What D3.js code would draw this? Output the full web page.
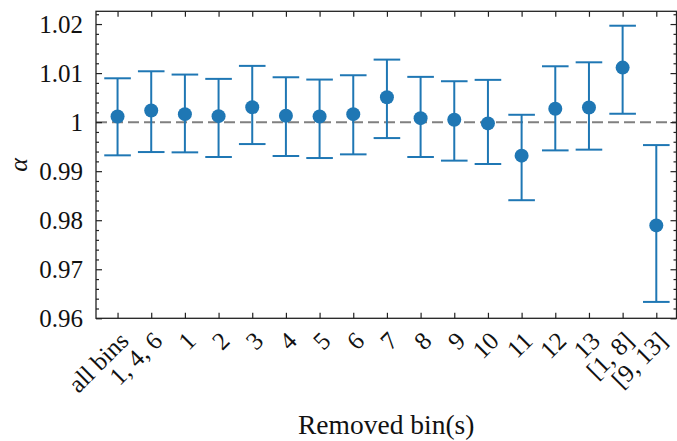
<!DOCTYPE html>
<html>
<head>
<meta charset="utf-8">
<script src="https://cdn.jsdelivr.net/npm/d3@7"></script>
<style>
  html, body { margin: 0; padding: 0; background: #fff; }
  svg { display: block; }
  text { font-family: "Liberation Serif", "Times New Roman", serif; fill: #111; }
</style>
</head>
<body>
<svg id="chart" width="677" height="441"></svg>
<script>
// ---- data ----
const categories = ["all bins", "1, 4, 6", "1", "2", "3", "4", "5", "6", "7", "8", "9", "10", "11", "12", "13", "[1, 8]", "[9, 13]"];
const alphaValues = [1.00116, 1.00238, 1.00163, 1.00122, 1.00305, 1.00130, 1.00116, 1.00163, 1.00508, 1.00081, 1.00049, 0.99974, 0.99317, 1.00272, 1.00299, 1.01112, 0.97894];
const upperBounds = [1.00894, 1.01037, 1.00970, 1.00882, 1.01147, 1.00915, 1.00868, 1.00956, 1.01275, 1.00923, 1.00834, 1.00862, 1.00150, 1.01139, 1.01220, 1.01966, 0.99532];
const lowerBounds = [0.99323, 0.99390, 0.99384, 0.99289, 0.99553, 0.99309, 0.99268, 0.99343, 0.99675, 0.99289, 0.99215, 0.99146, 0.98408, 0.99424, 0.99439, 1.00171, 0.96334];
const yTickValues = [0.96, 0.97, 0.98, 0.99, 1.00, 1.01, 1.02];
const yTickLabels = ["0.96", "0.97", "0.98", "0.99", "1", "1.01", "1.02"];
const referenceValue = 1.0;
const xLabel = "Removed bin(s)";
const yLabel = "α";

(function () {
const pL = 96, pR = 676.5, pT = 11.3, pB = 318.3;
const blue = "#1f77b4";
const serif = "'Liberation Serif', 'Times New Roman', serif";

const svg = d3.select("#chart");

const x = d3.scaleLinear().domain([-0.64, categories.length - 1 + 0.6]).range([pL, pR]);
const y = d3.scaleLinear().domain([0.96, 1.0226]).range([pB, pT]);

const idx = categories.map((_, i) => i);
const minorY = d3.range(0, 32).map(k => 0.96 + k * 0.002).filter(v => v <= 1.0226 && yTickValues.every(t => Math.abs(t - v) > 1e-9));

// reference dashed line
svg.append("line")
  .attr("x1", pL).attr("x2", pR)
  .attr("y1", y(referenceValue)).attr("y2", y(referenceValue))
  .attr("stroke", "#808080").attr("stroke-width", 2)
  .attr("stroke-dasharray", "11,5");

// error bars
const g = svg.append("g");
const capHalf = 13.3;
idx.forEach(i => {
  const cx = x(i);
  g.append("line").attr("x1", cx).attr("x2", cx)
    .attr("y1", y(lowerBounds[i])).attr("y2", y(upperBounds[i]))
    .attr("stroke", blue).attr("stroke-width", 2);
  [lowerBounds[i], upperBounds[i]].forEach(v => {
    g.append("line").attr("x1", cx - capHalf).attr("x2", cx + capHalf)
      .attr("y1", y(v)).attr("y2", y(v))
      .attr("stroke", blue).attr("stroke-width", 2);
  });
});
g.selectAll("circle").data(idx).join("circle")
  .attr("cx", i => x(i)).attr("cy", i => y(alphaValues[i]))
  .attr("r", 7).attr("fill", blue);

function styleAxis(sel) {
  sel.attr("font-family", serif);
  sel.select(".domain").remove();
  sel.selectAll(".tick line").attr("stroke", "#222").attr("stroke-width", 1.2);
}

svg.append("g").attr("transform", `translate(${pL},0)`)
  .call(d3.axisLeft(y).tickValues(yTickValues).tickSize(-6).tickSizeOuter(0).tickPadding(13)
    .tickFormat((d, i) => yTickLabels[i]))
  .call(styleAxis)
  .call(s => s.selectAll("text").attr("font-size", 25).attr("font-family", serif).attr("fill", "#111"));
svg.append("g").attr("transform", `translate(${pL},0)`)
  .call(d3.axisLeft(y).tickValues(minorY).tickSize(-3).tickSizeOuter(0).tickFormat(""))
  .call(styleAxis);
svg.append("g").attr("transform", `translate(${pR},0)`)
  .call(d3.axisRight(y).tickValues(yTickValues).tickSize(-6).tickSizeOuter(0).tickFormat(""))
  .call(styleAxis);
svg.append("g").attr("transform", `translate(${pR},0)`)
  .call(d3.axisRight(y).tickValues(minorY).tickSize(-3).tickSizeOuter(0).tickFormat(""))
  .call(styleAxis);
svg.append("g").attr("transform", `translate(0,${pT})`)
  .call(d3.axisTop(x).tickValues(idx).tickSize(-5.5).tickSizeOuter(0).tickFormat(""))
  .call(styleAxis);
const bx = svg.append("g").attr("transform", `translate(0,${pB})`)
  .call(d3.axisBottom(x).tickValues(idx).tickSize(-5.5).tickSizeOuter(0)
    .tickFormat(i => categories[i]))
  .call(styleAxis);
bx.selectAll(".tick text")
  .attr("font-size", 25).attr("font-family", serif).attr("fill", "#111")
  .attr("x", 0).attr("y", 0).attr("dy", "0.68em")
  .attr("text-anchor", "end")
  .attr("transform", "translate(0,12) rotate(-45)");

svg.append("rect")
  .attr("x", pL).attr("y", pT)
  .attr("width", pR - pL).attr("height", pB - pT)
  .attr("fill", "none").attr("stroke", "#222").attr("stroke-width", 1.3);

svg.append("text")
  .attr("x", (pL + pR) / 2).attr("y", 434)
  .attr("text-anchor", "middle").attr("font-size", 27.5).attr("font-family", serif)
  .text(xLabel);
svg.append("text")
  .attr("transform", `translate(27,${(pT + pB) / 2}) rotate(-90)`)
  .attr("text-anchor", "middle").attr("font-size", 26).attr("font-style", "italic").attr("font-family", serif)
  .text(yLabel);
})();
</script>
</body>
</html>
